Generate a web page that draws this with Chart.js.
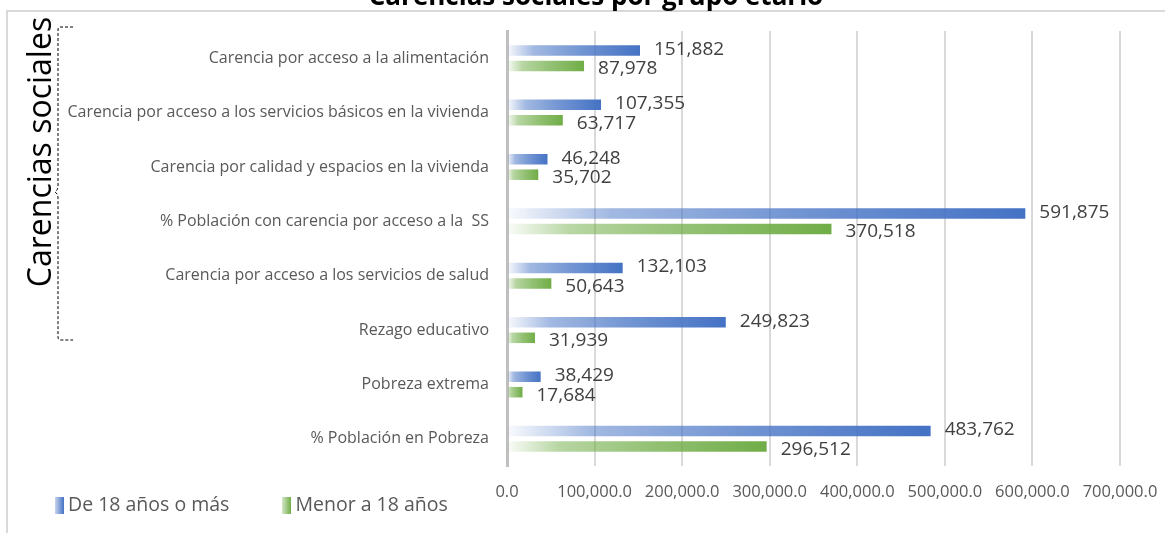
<!DOCTYPE html>
<html>
<head>
<meta charset="utf-8">
<script src="https://cdn.jsdelivr.net/npm/chart.js@4/dist/chart.umd.min.js"></script>
<style>
  body { margin: 0; background: #fff; overflow: hidden; }
  #wrap { position: relative; width: 1165px; height: 533px; }
  #frame { position: absolute; left: 6px; top: 10px; width: 1200px; height: 600px; border: 2px solid #d9d9d9; box-sizing: border-box; }
  #title { position: absolute; left: 596px; top: -18px; transform: translateX(-50%); white-space: nowrap;
           font: bold 26px "Open Sans", sans-serif; color: #000; line-height: 26px; }
  #side { position: absolute; left: 38px; top: 152px; transform: translate(-50%, -50%) rotate(-90deg);
          white-space: nowrap; font: 32px "Open Sans", sans-serif; color: #000; }
  #legend { position: absolute; left: 55px; top: 490px; font: 19.5px "Open Sans", sans-serif; color: #595959; white-space: nowrap; }
  #legend span.item { display: inline-block; margin-right: 48px; }
  #legend i { display: inline-block; width: 9px; height: 17px; vertical-align: -3px; margin-right: 4px; }
  canvas { position: absolute; left: 0; top: 0; }
  svg { position: absolute; left: 0; top: 0; }
</style>
</head>
<body>
<div id="wrap">
  <div id="frame"></div>
  <canvas id="myChart" width="1165" height="533"></canvas>
  <div id="title">Carencias sociales por grupo etario</div>
  <div id="side">Carencias sociales</div>
  <svg width="120" height="360">
    <path d="M73 27 L60 27 Q58 27 58 30 L58 186 Q58 190 55 192 Q58 194 58 198 L58 337 Q58 340 61 340 L73 340" fill="none" stroke="#000" stroke-width="1" stroke-dasharray="3,2"/>
  </svg>
  <div id="legend"></div>
</div>
<script>
let categories = [
  'Carencia por acceso a la alimentación',
  'Carencia por acceso a los servicios básicos en la vivienda',
  'Carencia por calidad y espacios en la vivienda',
  '% Población con carencia por acceso a la  SS',
  'Carencia por acceso a los servicios de salud',
  'Rezago educativo',
  'Pobreza extrema',
  '% Población en Pobreza'
];
let seriesNames = ['De 18 años o más', 'Menor a 18 años'];
let adults = [151882, 107355, 46248, 591875, 132103, 249823, 38429, 483762];
let minors = [87978, 63717, 35702, 370518, 50643, 31939, 17684, 296512];
let xTicks = [0, 100000, 200000, 300000, 400000, 500000, 600000, 700000];

let blue = [68, 114, 196];
let green = [112, 173, 71];

function rgba(c, a){
  return `rgba(${c[0]},${c[1]},${c[2]},${a})`;
}

function barGradient(c){
  return function(context){
    let chart = context.chart;
    if (!chart.chartArea || context.raw === undefined) return rgba(c, 1);
    let x = chart.scales.x;
    let x0 = x.getPixelForValue(0);
    let x1 = x.getPixelForValue(context.raw);
    if (x1 - x0 < 1) return rgba(c, 1);
    let g = chart.ctx.createLinearGradient(x0, 0, x1, 0);
    g.addColorStop(0, rgba(c, 0.03));
    g.addColorStop(0.2, rgba(c, 0.5));
    g.addColorStop(0.55, rgba(c, 0.75));
    g.addColorStop(1, rgba(c, 1));
    return g;
  };
}

function fmt(v){
  return v.toLocaleString('en-US');
}

// value labels next to the bar ends
let valueLabels = {
  id: 'valueLabels',
  afterDatasetsDraw(chart){
    let ctx = chart.ctx;
    ctx.save();
    ctx.font = '19px "Open Sans", sans-serif';
    ctx.fillStyle = '#404040';
    ctx.textBaseline = 'middle';
    ctx.textAlign = 'left';
    chart.data.datasets.forEach((ds, d) => {
      let meta = chart.getDatasetMeta(d);
      meta.data.forEach((bar, i) => {
        let dy = d === 0 ? -1 : 3;
        ctx.fillText(fmt(ds.data[i]), bar.x + 14, bar.y + dy);
      });
    });
    ctx.restore();
  }
};

document.getElementById('legend').innerHTML = `
  <span class="item"><i style="background:linear-gradient(to right, ${rgba(blue,0.3)}, ${rgba(blue,1)})"></i>${seriesNames[0]}</span>
  <span class="item"><i style="background:linear-gradient(to right, ${rgba(green,0.3)}, ${rgba(green,1)})"></i>${seriesNames[1]}</span>
`;

new Chart(document.getElementById('myChart'), {
  type: 'bar',
  data: {
    labels: categories,
    datasets: [
      { label: seriesNames[0], data: adults, backgroundColor: barGradient(blue), categoryPercentage: 0.57, barPercentage: 0.68 },
      { label: seriesNames[1], data: minors, backgroundColor: barGradient(green), categoryPercentage: 0.57, barPercentage: 0.68 }
    ]
  },
  options: {
    indexAxis: 'y',
    responsive: false,
    animation: false,
    layout: { padding: { top: 31, right: 45, bottom: 17, left: 0 } },
    plugins: { legend: { display: false }, tooltip: { enabled: false } },
    scales: {
      x: {
        min: 0,
        max: 700000,
        afterBuildTicks: (scale) => { scale.ticks = xTicks.map(v => ({ value: v })); },
        afterFit: (scale) => { scale.height = 50; scale.paddingLeft = 0; scale.paddingRight = 0; },
        grid: { color: '#d9d9d9', lineWidth: 2, drawTicks: false },
        border: { display: false },
        ticks: {
          autoSkip: false,
          maxRotation: 0,
          padding: 16,
          color: '#595959',
          font: { family: 'Open Sans', size: 16.5 },
          callback: (v) => Number(v).toLocaleString('en-US', { minimumFractionDigits: 1, maximumFractionDigits: 1 })
        }
      },
      y: {
        afterFit: (scale) => { scale.width = 507; },
        grid: { display: false, drawTicks: false },
        border: { color: '#bfbfbf', width: 3 },
        ticks: { padding: 18, color: '#595959', font: { family: 'Open Sans', size: 16 } }
      }
    }
  },
  plugins: [valueLabels]
});
</script>
</body>
</html>
